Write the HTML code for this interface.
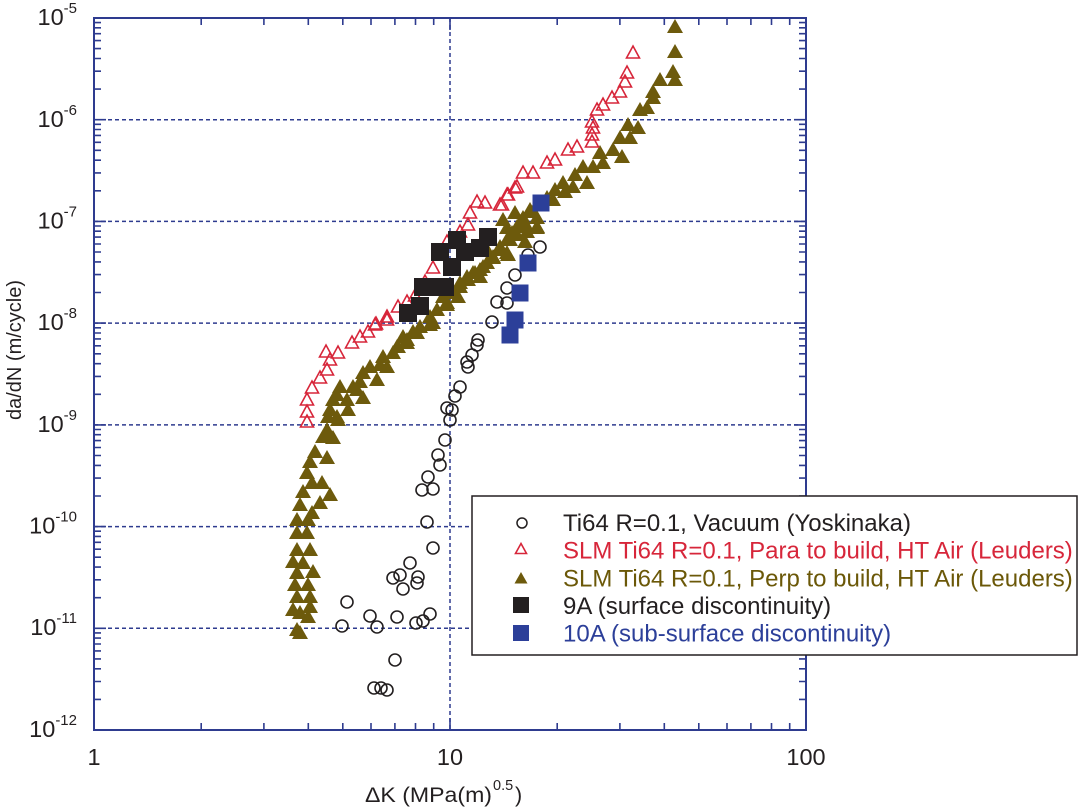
<!DOCTYPE html>
<html><head><meta charset="utf-8"><style>
html,body{margin:0;padding:0;background:#fff;}
svg{display:block;}
text{font-family:"Liberation Sans",Arial,sans-serif;}
</style></head><body>
<svg width="1080" height="810" viewBox="0 0 1080 810" xmlns="http://www.w3.org/2000/svg">
<rect x="0" y="0" width="1080" height="810" fill="#fff"/>
<!-- gridlines -->
<g stroke="#2e3b8f" stroke-width="1.5" stroke-dasharray="4 3" fill="none">
<path d="M94,119.7H806M94,221.4H806M94,323.1H806M94,424.9H806M94,526.6H806M94,628.3H806M450,18V730"/>
</g>
<!-- ticks -->
<g stroke="#2e3b8f" stroke-width="1.6" fill="none">
<path d="M94,699.4h7M94,681.5h7M94,668.8h7M94,658.9h7M94,650.9h7M94,644h7M94,638.1h7M94,632.9h7
M94,597.7h7M94,579.8h7M94,567.1h7M94,557.2h7M94,549.2h7M94,542.3h7M94,536.4h7M94,531.2h7
M94,496h7M94,478.1h7M94,465.4h7M94,455.5h7M94,447.5h7M94,440.6h7M94,434.7h7M94,429.5h7
M94,394.3h7M94,376.4h7M94,363.7h7M94,353.8h7M94,345.8h7M94,338.9h7M94,333h7M94,327.8h7
M94,292.5h7M94,274.6h7M94,261.9h7M94,252h7M94,244h7M94,237.1h7M94,231.2h7M94,226h7
M94,190.8h7M94,172.9h7M94,160.2h7M94,150.3h7M94,142.3h7M94,135.4h7M94,129.5h7M94,124.3h7
M94,89.1h7M94,71.2h7M94,58.5h7M94,48.6h7M94,40.6h7M94,33.7h7M94,27.8h7M94,22.6h7
M94,119.7h12M94,221.4h12M94,323.1h12M94,424.9h12M94,526.6h12M94,628.3h12"/>
<path d="M806,699.4h-7M806,681.5h-7M806,668.8h-7M806,658.9h-7M806,650.9h-7M806,644h-7M806,638.1h-7M806,632.9h-7
M806,597.7h-7M806,579.8h-7M806,567.1h-7M806,557.2h-7M806,549.2h-7M806,542.3h-7M806,536.4h-7M806,531.2h-7
M806,496h-7M806,478.1h-7M806,465.4h-7M806,455.5h-7M806,447.5h-7M806,440.6h-7M806,434.7h-7M806,429.5h-7
M806,394.3h-7M806,376.4h-7M806,363.7h-7M806,353.8h-7M806,345.8h-7M806,338.9h-7M806,333h-7M806,327.8h-7
M806,292.5h-7M806,274.6h-7M806,261.9h-7M806,252h-7M806,244h-7M806,237.1h-7M806,231.2h-7M806,226h-7
M806,190.8h-7M806,172.9h-7M806,160.2h-7M806,150.3h-7M806,142.3h-7M806,135.4h-7M806,129.5h-7M806,124.3h-7
M806,89.1h-7M806,71.2h-7M806,58.5h-7M806,48.6h-7M806,40.6h-7M806,33.7h-7M806,27.8h-7M806,22.6h-7
M806,119.7h-12M806,221.4h-12M806,323.1h-12M806,424.9h-12M806,526.6h-12M806,628.3h-12"/>
<path d="M201.2,730v-7M263.9,730v-7M308.3,730v-7M342.8,730v-7M371,730v-7M394.9,730v-7M415.5,730v-7M433.7,730v-7
M557.2,730v-7M619.9,730v-7M664.3,730v-7M698.8,730v-7M727,730v-7M750.9,730v-7M771.5,730v-7M789.7,730v-7M450,730v-12
M201.2,18v7M263.9,18v7M308.3,18v7M342.8,18v7M371,18v7M394.9,18v7M415.5,18v7M433.7,18v7
M557.2,18v7M619.9,18v7M664.3,18v7M698.8,18v7M727,18v7M750.9,18v7M771.5,18v7M789.7,18v7M450,18v12"/>
</g>
<!-- frame -->
<rect x="94" y="18" width="712" height="712" fill="none" stroke="#2e3b8f" stroke-width="2"/>

<!-- olive filled triangles -->
<path fill="#6d5a0c" d="M430,317l8,14h-16zM417,325l8,14h-16zM407,332l8,14h-16zM398,339l8,14h-16zM393,345l8,14h-16zM383,349l8,14h-16zM380,357l8,14h-16zM370,359l8,14h-16zM363,365l8,14h-16zM360,374l8,14h-16zM353,379l8,14h-16zM363,390l8,14h-16zM340,379l8,14h-16zM337,387l8,14h-16zM333,392l8,14h-16zM348,402l8,14h-16zM330,402l8,14h-16zM338,412l8,14h-16zM328,409l8,14h-16zM327,422l8,14h-16zM333,430l8,14h-16zM323,429l8,14h-16zM315,444l8,14h-16zM327,450l8,14h-16zM310,454l8,14h-16zM307,465l8,14h-16zM322,475l8,14h-16zM312,475l8,14h-16zM303,484l8,14h-16zM330,487l8,14h-16zM320,495l8,14h-16zM300,497l8,14h-16zM312,505l8,14h-16zM297,512l8,14h-16zM308,512l8,14h-16zM297,525l8,14h-16zM307,525l8,14h-16zM297,542l8,14h-16zM310,542l8,14h-16zM293,554l8,14h-16zM303,555l8,14h-16zM313,564l8,14h-16zM297,565l8,14h-16zM295,577l8,14h-16zM308,577l8,14h-16zM297,589l8,14h-16zM310,589l8,14h-16zM293,602l8,14h-16zM300,605l8,14h-16zM310,599l8,14h-16zM297,622l8,14h-16zM300,625l8,14h-16zM308,609l8,14h-16z
M547,190l8,14h-16zM533,204l8,14h-16zM520,215l8,14h-16zM527,219l8,14h-16zM537,220l8,14h-16zM507,220l8,14h-16zM517,227l8,14h-16zM510,232l8,14h-16zM525,234l8,14h-16zM500,239l8,14h-16zM507,245l8,14h-16zM493,249l8,14h-16zM487,255l8,14h-16zM480,262l8,14h-16zM473,265l8,14h-16zM467,269l8,14h-16zM460,275l8,14h-16zM480,269l8,14h-16zM453,285l8,14h-16zM443,289l8,14h-16zM447,297l8,14h-16zM437,302l8,14h-16zM430,309l8,14h-16zM433,315l8,14h-16zM420,319l8,14h-16zM413,324l8,14h-16zM403,329l8,14h-16zM407,335l8,14h-16zM397,339l8,14h-16zM387,359l8,14h-16zM377,372l8,14h-16zM357,382l8,14h-16zM347,392l8,14h-16zM337,409l8,14h-16zM330,429l8,14h-16z
M675,19l8,14h-16zM675,44l8,14h-16zM673,64l8,14h-16zM675,72l8,14h-16zM660,72l8,14h-16zM653,84l8,14h-16zM653,90l8,14h-16zM640,102l8,14h-16zM647,100l8,14h-16zM628,117l8,14h-16zM638,120l8,14h-16zM630,130l8,14h-16zM620,130l8,14h-16zM613,142l8,14h-16zM622,149l8,14h-16zM600,145l8,14h-16zM603,155l8,14h-16zM593,159l8,14h-16zM583,159l8,14h-16zM575,167l8,14h-16zM587,175l8,14h-16zM573,179l8,14h-16zM563,175l8,14h-16zM555,182l8,14h-16zM565,184l8,14h-16zM553,192l8,14h-16zM530,202l8,14h-16zM537,210l8,14h-16zM523,210l8,14h-16zM515,205l8,14h-16zM503,212l8,14h-16zM517,219l8,14h-16zM512,225l8,14h-16zM537,219l8,14h-16zM527,224l8,14h-16zM507,232l8,14h-16zM500,242l8,14h-16zM508,247l8,14h-16zM487,242l8,14h-16zM493,250l8,14h-16zM483,259l8,14h-16zM475,265l8,14h-16zM468,272l8,14h-16zM460,279l8,14h-16zM458,289l8,14h-16zM447,295l8,14h-16z"/>

<!-- red open triangles -->
<path fill="none" stroke="#d7263a" stroke-width="1.6" stroke-linejoin="miter" d="M326,345l6.5,12h-13zM338,346l6.5,12h-13zM330,353l6.5,12h-13zM327,363l6.5,12h-13zM320,371l6.5,12h-13zM312,381l6.5,12h-13zM307,393l6.5,12h-13zM307,405l6.5,12h-13zM307,415l6.5,12h-13zM352,336l6.5,12h-13zM360,330l6.5,12h-13zM368,325l6.5,12h-13zM376,317l6.5,12h-13zM387,313l6.5,12h-13z
M517,180l6.5,12h-13zM477,195l6.5,12h-13zM485,196l6.5,12h-13zM502,198l6.5,12h-13zM508,188l6.5,12h-13zM470,206l6.5,12h-13zM468,218l6.5,12h-13zM433,261l6.5,12h-13zM407,295l6.5,12h-13zM387,310l6.5,12h-13zM375,318l6.5,12h-13zM415,289l6.5,12h-13zM425,275l6.5,12h-13zM398,300l6.5,12h-13zM447,235l6.5,12h-13z
M633,46l6.5,12h-13zM627,66l6.5,12h-13zM625,75l6.5,12h-13zM620,85l6.5,12h-13zM612,91l6.5,12h-13zM603,98l6.5,12h-13zM597,103l6.5,12h-13zM592,115l6.5,12h-13zM593,121l6.5,12h-13zM592,128l6.5,12h-13zM592,135l6.5,12h-13zM577,140l6.5,12h-13zM568,143l6.5,12h-13zM555,153l6.5,12h-13zM547,156l6.5,12h-13zM533,166l6.5,12h-13zM523,166l6.5,12h-13zM515,181l6.5,12h-13zM507,188l6.5,12h-13zM500,198l6.5,12h-13zM460,225l6.5,12h-13z"/>

<!-- open circles -->
<g fill="none" stroke="#231f20" stroke-width="1.6">
<circle cx="492" cy="322" r="6"/><circle cx="478" cy="340" r="6"/><circle cx="477" cy="345" r="6"/><circle cx="472" cy="355" r="6"/><circle cx="467" cy="362" r="6"/><circle cx="468" cy="367" r="6"/><circle cx="460" cy="387" r="6"/><circle cx="455" cy="396" r="6"/><circle cx="447" cy="408" r="6"/><circle cx="452" cy="410" r="6"/><circle cx="450" cy="420" r="6"/><circle cx="445" cy="440" r="6"/><circle cx="438" cy="455" r="6"/><circle cx="440" cy="465" r="6"/><circle cx="428" cy="477" r="6"/><circle cx="422" cy="490" r="6"/><circle cx="433" cy="489" r="6"/><circle cx="427" cy="522" r="6"/><circle cx="433" cy="548" r="6"/><circle cx="410" cy="563" r="6"/><circle cx="400" cy="575" r="6"/><circle cx="393" cy="578" r="6"/><circle cx="418" cy="577" r="6"/><circle cx="417" cy="583" r="6"/><circle cx="403" cy="589" r="6"/><circle cx="347" cy="602" r="6"/><circle cx="370" cy="616" r="6"/><circle cx="377" cy="627" r="6"/><circle cx="342" cy="626" r="6"/><circle cx="397" cy="617" r="6"/><circle cx="416" cy="623" r="6"/><circle cx="423" cy="621" r="6"/><circle cx="430" cy="614" r="6"/><circle cx="395" cy="660" r="6"/><circle cx="374" cy="688" r="6"/><circle cx="381" cy="688" r="6"/><circle cx="387" cy="690" r="6"/>
<circle cx="540" cy="247" r="6"/><circle cx="528" cy="255" r="6"/><circle cx="515" cy="275" r="6"/><circle cx="507" cy="288" r="6"/><circle cx="497" cy="302" r="6"/><circle cx="507" cy="303" r="6"/>
</g>

<!-- black squares -->
<g fill="#231f20">
<rect x="399" y="304" width="18" height="18"/><rect x="411" y="297" width="18" height="18"/><rect x="414" y="278" width="18" height="18"/><rect x="424" y="278" width="18" height="18"/><rect x="436" y="278" width="18" height="18"/><rect x="431" y="243" width="18" height="18"/><rect x="448" y="231" width="18" height="18"/><rect x="443" y="258" width="18" height="18"/><rect x="456" y="243" width="18" height="18"/><rect x="471" y="239" width="18" height="18"/><rect x="479" y="228" width="18" height="18"/>
</g>
<!-- blue squares -->
<g fill="#2c3f99">
<rect x="532.5" y="194.5" width="17" height="17"/><rect x="519.5" y="254.5" width="17" height="17"/><rect x="511.5" y="284.5" width="17" height="17"/><rect x="506.5" y="311.5" width="17" height="17"/><rect x="501.5" y="326.5" width="17" height="17"/>
</g>

<!-- y tick labels -->
<g fill="#231f20" font-size="23.5">
<text x="77" y="25" text-anchor="end">10<tspan dy="-12" font-size="15">-5</tspan></text>
<text x="77" y="127" text-anchor="end">10<tspan dy="-12" font-size="15">-6</tspan></text>
<text x="77" y="228.5" text-anchor="end">10<tspan dy="-12" font-size="15">-7</tspan></text>
<text x="77" y="330" text-anchor="end">10<tspan dy="-12" font-size="15">-8</tspan></text>
<text x="77" y="432" text-anchor="end">10<tspan dy="-12" font-size="15">-9</tspan></text>
<text x="77" y="533.5" text-anchor="end">10<tspan dy="-12" font-size="15">-10</tspan></text>
<text x="77" y="635" text-anchor="end">10<tspan dy="-12" font-size="15">-11</tspan></text>
<text x="77" y="737" text-anchor="end">10<tspan dy="-12" font-size="15">-12</tspan></text>
</g>
<!-- x tick labels -->
<g fill="#231f20" font-size="23.5" text-anchor="middle">
<text x="94" y="765">1</text>
<text x="450" y="765">10</text>
<text x="806" y="765">100</text>
</g>
<!-- axis titles -->
<text x="365" y="802" font-size="21.5" fill="#231f20" textLength="127" lengthAdjust="spacingAndGlyphs">ΔK (MPa(m)</text>
<text x="493" y="790" font-size="14.5" fill="#231f20">0.5</text>
<text x="515" y="802" font-size="21.5" fill="#231f20">)</text>
<text transform="translate(21,350) rotate(-90)" text-anchor="middle" font-size="20" fill="#231f20">da/dN (m/cycle)</text>

<!-- legend -->
<rect x="472" y="496" width="605" height="159" fill="#fff" stroke="#231f20" stroke-width="1.5"/>
<circle cx="522" cy="523" r="5" fill="none" stroke="#231f20" stroke-width="1.5"/>
<path d="M521,543.5l5.5,10h-11z" fill="none" stroke="#d7263a" stroke-width="1.6"/>
<path d="M521,572l6.5,11.5h-13z" fill="#6d5a0c"/>
<rect x="513" y="597" width="16" height="16" fill="#231f20"/>
<rect x="513" y="625" width="16" height="16" fill="#2c3f99"/>
<g font-size="24">
<text x="563" y="531" fill="#231f20">Ti64 R=0.1, Vacuum (Yoskinaka)</text>
<text x="563" y="558.5" fill="#d7263a">SLM Ti64 R=0.1, Para to build, HT Air (Leuders)</text>
<text x="563" y="586.5" fill="#6b5808">SLM Ti64 R=0.1, Perp to build, HT Air (Leuders)</text>
<text x="563" y="614" fill="#231f20">9A (surface discontinuity)</text>
<text x="563" y="641.5" fill="#2c3f99">10A (sub-surface discontinuity)</text>
</g>
</svg>
</body></html>
